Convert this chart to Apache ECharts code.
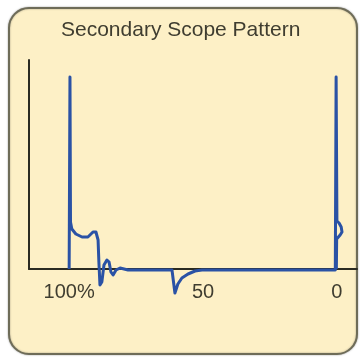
<!DOCTYPE html>
<html>
<head>
<meta charset="utf-8">
<script src="https://cdn.jsdelivr.net/npm/echarts@6/dist/echarts.min.js"></script>
<style>
html,body{margin:0;padding:0;background:#ffffff;}
#chart{width:361px;height:360px;}
</style>
</head>
<body>
<div id="chart"></div>
<script>
// Trace: position along the firing cycle (percent, 100% at left, 0 at right) and relative voltage
var positionPct = [100, 99.7, 99.5, 99.0, 97.5, 95.2, 93.0, 91.1, 90.0, 89.2, 88.9, 88.5, 87.8, 87.0, 85.9, 85.1, 84.4, 83.6, 82.5, 81.0, 78.0, 70.0, 61.6, 60.5, 59.4, 57.9, 55.6, 53.0, 50.4, 45.6, 20.0, 0.6, 0.3, 0.0, -0.8, -1.6, -1.9, -1.2, 0.1, 0.2];
var voltage     = [0, 192, 47, 40, 35, 32, 32, 37, 37, 29, 7, -16, -13, 4, 9, 7, -3, -6, -1, 1, -1, -1, -1, -24, -15, -9, -5, -2, -1, -1, -1, -1, 192, 48, 46, 42, 37, 34, 30, 0];
var tickValues = [100, 50, 0];
var tickLabels = ['100%', '50', '0'];
var titleText = 'Secondary Scope Pattern';

var traceData = positionPct.map(function (x, i) { return [x, voltage[i]]; });

var chart = echarts.init(document.getElementById('chart'), null, {renderer: 'canvas'});
chart.setOption({
  animation: false,
  backgroundColor: 'transparent',
  graphic: [{
    type: 'rect',
    z: -10,
    shape: {x: 9, y: 8, width: 348, height: 346, r: 20},
    style: {fill: '#fdf0c6', stroke: '#6e6c58', lineWidth: 2, shadowBlur: 2, shadowColor: 'rgba(0,0,0,0.35)'}
  }],
  title: {
    text: titleText,
    left: 61,
    top: 20,
    padding: 0,
    textStyle: {fontFamily: 'Liberation Sans, Arial, sans-serif', fontSize: 21, fontWeight: 'normal', color: '#3f3d30'}
  },
  grid: {left: 29, right: 4, top: 60, bottom: 91, containLabel: false},
  xAxis: {
    type: 'value',
    inverse: true,
    min: -7.5,
    max: 115,
    axisLine: {show: true, onZero: false, lineStyle: {color: '#2b2b22', width: 2}},
    axisTick: {show: false},
    splitLine: {show: false},
    axisLabel: {
      show: true,
      customValues: tickValues,
      margin: 13,
      fontFamily: 'Liberation Sans, Arial, sans-serif',
      fontSize: 20,
      color: '#3f3d30',
      formatter: function (v) {
        var i = tickValues.indexOf(v);
        return i >= 0 ? tickLabels[i] : '';
      }
    }
  },
  yAxis: {
    type: 'value',
    position: 'left',
    min: 0,
    max: 209,
    axisLine: {show: true, onZero: false, lineStyle: {color: '#2b2b22', width: 2}},
    axisTick: {show: false},
    axisLabel: {show: false},
    splitLine: {show: false}
  },
  series: [{
    type: 'line',
    data: traceData,
    showSymbol: false,
    clip: false,
    z: 5,
    lineStyle: {color: '#2a52a5', width: 3, join: 'round'}
  }]
});
</script>
</body>
</html>
